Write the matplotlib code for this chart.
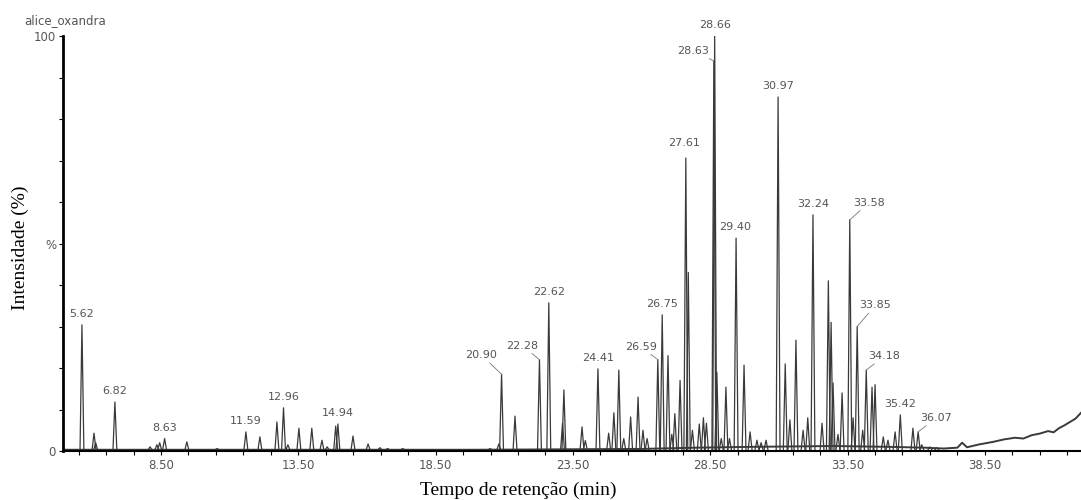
"""
plot.py

Chromatogram of the alice_oxandra sample (relative intensity vs retention time).
Peaks are read off the reference picture and drawn as thin spikes on a
slowly drifting baseline.
"""

import matplotlib
matplotlib.use("Agg")
import matplotlib.pyplot as plt
import numpy as np

# Data -----------------------------------------------------
sample_name = "alice_oxandra"

# Retention time (min) and apex intensity (%) of every visible peak
peak_times = [
    5.62, 6.06, 6.12, 6.82, 8.10, 8.35, 8.45, 8.63, 9.44, 10.54,
    11.59, 12.10, 12.72, 12.96, 13.12, 13.52, 13.99, 14.36, 14.55, 14.86,
    14.94, 15.49, 16.04, 16.47, 16.75, 17.30, 20.48, 20.80, 20.90, 21.39,
    22.28, 22.62, 23.12, 23.17, 23.83, 23.95, 24.41, 24.80, 24.99, 25.17,
    25.35, 25.60, 25.87, 26.05, 26.20, 26.59, 26.75, 26.96, 27.10, 27.21,
    27.40, 27.61, 27.70, 27.85, 28.10, 28.25, 28.36, 28.63, 28.66, 28.74,
    28.90, 29.07, 29.20, 29.44, 29.73, 29.95, 30.20, 30.35, 30.53, 30.97,
    31.23, 31.40, 31.62, 31.88, 32.05, 32.24, 32.57, 32.80, 32.90, 32.97,
    33.15, 33.30, 33.58, 33.70, 33.85, 34.05, 34.18, 34.39, 34.50, 34.80,
    34.97, 35.23, 35.42, 35.88, 36.07, 36.20, 36.50, 36.75,
]
peak_heights = [
    30.4, 4.3, 2.0, 11.8, 1.0, 1.5, 2.0, 3.0, 2.2, 0.6,
    4.6, 3.4, 7.0, 10.4, 1.5, 5.5, 5.5, 2.6, 1.0, 6.0,
    6.5, 3.6, 1.7, 0.8, 0.6, 0.6, 0.6, 1.7, 18.5, 8.4,
    22.0, 35.7, 6.7, 14.7, 5.8, 2.5, 19.8, 4.3, 9.2, 19.5,
    3.0, 8.2, 13.0, 5.0, 3.0, 22.0, 32.8, 23.0, 4.0, 9.0,
    17.0, 70.6, 43.0, 5.0, 6.5, 8.0, 6.7, 94.0, 100.0, 19.0,
    3.0, 15.4, 3.0, 51.3, 20.7, 4.6, 2.6, 2.0, 2.6, 85.3,
    21.0, 7.5, 26.7, 5.0, 8.0, 56.9, 6.7, 41.0, 31.0, 16.4,
    4.0, 14.0, 55.7, 8.0, 30.0, 5.0, 19.5, 15.4, 16.0, 3.4,
    2.6, 4.6, 8.7, 5.5, 4.6, 1.5, 1.0, 0.8,
]

# Baseline drift (column bleed at the end of the run)
baseline_times = [4.93, 20.0, 26.0, 28.0, 30.0, 33.0, 35.0, 36.3, 37.0, 37.5,
                  37.67, 37.85, 38.3, 38.8, 39.2, 39.6, 39.9, 40.2, 40.5, 40.8,
                  41.0, 41.2, 41.4, 41.6, 41.8, 42.0]
baseline_values = [0.3, 0.3, 0.5, 0.8, 1.0, 1.2, 1.0, 0.8, 0.6, 0.8,
                   2.0, 0.9, 1.6, 2.2, 2.8, 3.2, 3.0, 3.8, 4.2, 4.8,
                   4.5, 5.5, 6.2, 7.0, 7.8, 9.2]

# Labelled peaks
label_times = [5.62, 6.82, 8.63, 11.59, 12.96, 14.94, 20.90, 22.28, 22.62, 24.41,
               26.59, 26.75, 27.61, 28.63, 28.66, 29.40, 30.97, 32.24, 33.58, 33.85,
               34.18, 35.42, 36.07]
label_heights = [30.4, 11.8, 3.0, 4.6, 10.4, 6.5, 18.5, 22.0, 35.7, 19.8,
                 22.0, 32.8, 70.6, 94.0, 100.0, 51.3, 85.3, 56.9, 55.7, 30.0,
                 19.5, 8.7, 4.6]

x_major = [8.5, 13.5, 18.5, 23.5, 28.5, 33.5, 38.5]

# Layout: label offsets in pixels (dx, dy); labels with a big dx get a leader line
label_offsets = {
    20.90: (-20, 14), 22.28: (-17, 9), 26.59: (-17, 8), 27.61: (-2, 10),
    28.63: (-21, 5), 33.58: (19, 12), 33.85: (18, 16), 34.18: (18, 9),
    36.07: (18, 9),
}

# Figure ---------------------------------------------------
fig = plt.figure(figsize=(10.81, 5.0), dpi=100)
ax = fig.add_axes([63 / 1081, 1 - 451 / 500, 1 - 63 / 1081, (451 - 36) / 500])

line_col = "#3a3a3a"
text_col = "#555555"
half_w = 0.07
base = 0.3

ax.plot(baseline_times, baseline_values, color=line_col, lw=1.4)
for t, h in zip(peak_times, peak_heights):
    ax.plot([t - half_w, t, t + half_w], [base, h, base], color=line_col, lw=0.9)

for t, h in zip(label_times, label_heights):
    dx, dy = label_offsets.get(t, (0, 6))
    props = None
    if abs(dx) > 5:
        props = dict(arrowstyle="-", color="#777777", lw=0.6,
                     shrinkA=0, shrinkB=0)
    ax.annotate(f"{t:.2f}", xy=(t, h), xytext=(dx, dy),
                textcoords="offset pixels", ha="center", va="bottom",
                fontsize=8, color=text_col, arrowprops=props)

ax.set_xlim(4.93, 42.0)
ax.set_ylim(0, 100)

ax.set_xticks(np.arange(5.5, 42.0, 1.0), minor=True)
ax.set_xticks(x_major)
ax.set_xticklabels([f"{v:.2f}" for v in x_major], fontsize=8.5, color=text_col)
ax.tick_params(axis="x", which="both", direction="out", length=3, width=0.8,
               pad=3)

y_ticks = np.arange(0, 101, 10)
y_labels = ["0", "", "", "", "", "%", "", "", "", "", "100"]
ax.set_yticks(y_ticks)
ax.set_yticklabels(y_labels, fontsize=8.5, color=text_col)
ax.tick_params(axis="y", direction="out", length=3, width=0.8, pad=2)

for side in ["top", "right"]:
    ax.spines[side].set_visible(False)
ax.spines["left"].set_linewidth(2.0)
ax.spines["bottom"].set_linewidth(1.5)

fig.text(24 / 1081, 1 - 21 / 500, sample_name, fontsize=8.5, color=text_col,
         ha="left", va="center")
fig.text(518 / 1081, 1 - 490 / 500, "Tempo de retenção (min)",
         family="Liberation Serif", fontsize=14, ha="center", va="center")
fig.text(20 / 1081, 1 - 248 / 500, "Intensidade (%)",
         family="Liberation Serif", fontsize=14, ha="center", va="center",
         rotation=90)

fig.savefig("out.png", dpi=100)
